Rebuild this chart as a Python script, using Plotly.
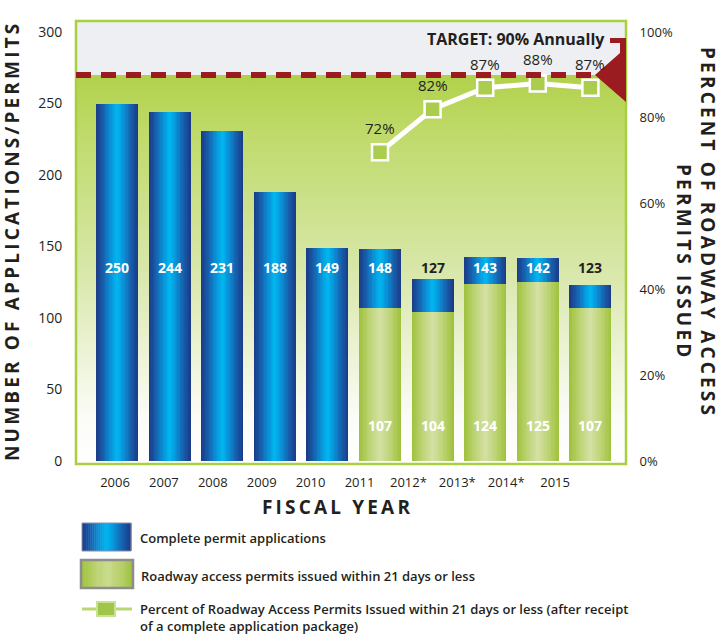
import plotly.graph_objects as go

# ---------------- data ----------------
years = [2006, 2007, 2008, 2009, 2010, 2011, 2012, 2013, 2014, 2015]
year_labels = ["2006", "2007", "2008", "2009", "2010", "2011", "2012*", "2013*", "2014*", "2015"]
complete_apps = [250, 244, 231, 188, 149, 148, 127, 143, 142, 123]
issued_years = [2011, 2012, 2013, 2014, 2015]
issued_21 = [107, 104, 124, 125, 107]
pct_years = [2011, 2012, 2013, 2014, 2015]
pct_issued = [72, 82, 87, 88, 87]
target_pct = 90
left_ticks = [0, 50, 100, 150, 200, 250, 300]
right_ticks = [0, 20, 40, 60, 80, 100]
right_tick_labels = [f"{v}%" for v in right_ticks]

legend_labels = [
    "Complete permit applications",
    "Roadway access permits issued within 21 days or less",
    "Percent of Roadway Access Permits Issued within 21 days or less (after receipt<br>of a complete application package)",
]
target_text = "TARGET: 90% Annually"

# ---------------- style ----------------
FONT = "Open Sans"
DARK = "#231f20"
PLOT_L, PLOT_R, PLOT_T, PLOT_B = 76, 626, 21, 464   # plot frame in window pixels
W, H = 721, 637
PW, PH = PLOT_R - PLOT_L, PLOT_B - PLOT_T
MARGIN = dict(l=PLOT_L, r=W - PLOT_R, t=PLOT_T, b=H - PLOT_B)

PCT_PER_UNIT = 3.0          # 100 % on right axis <-> 300 on left axis
Y_RANGE = [-2.1, 307.7]
Y2_RANGE = [v / PCT_PER_UNIT for v in Y_RANGE]
X_RANGE = [2005.2205, 2005.2205 + PW / 52.6]
XLAB_RANGE = [2005.2025, 2005.2025 + PW / 48.9]
BAR_W = 0.8
BLUE_LABEL_Y = 135
GREEN_LABEL_Y = 25


def px_x(px):
    return (px - PLOT_L) / PW


def px_y(py):
    return (PLOT_B - py) / PH


def px_pct(py):
    frac = (PLOT_B - py) / PH
    return Y2_RANGE[0] + frac * (Y2_RANGE[1] - Y2_RANGE[0])


def hex2rgb(h):
    h = h.lstrip("#")
    return tuple(int(h[i:i + 2], 16) for i in (0, 2, 4))


def ramp(stops, d):
    for (p0, c0), (p1, c1) in zip(stops[:-1], stops[1:]):
        if p0 <= d <= p1:
            t = (d - p0) / (p1 - p0) if p1 > p0 else 0
            a, b = hex2rgb(c0), hex2rgb(c1)
            return "rgb(%d,%d,%d)" % tuple(round(a[i] + (b[i] - a[i]) * t) for i in range(3))
    return stops[-1][1]


BLUE = [(0, "#00b8f0"), (0.3, "#0a92d8"), (0.65, "#1760ad"), (1, "#1b3886")]
GREEN = [(0, "#d4e1a4"), (0.5, "#bdd375"), (1, "#9dc13b")]


def spaced(s):
    return "\u2006".join(s)


fig = go.Figure()

# background gradient below target (main subplot, drawn first)
fig.add_trace(go.Scatter(
    x=[XLAB_RANGE[0], XLAB_RANGE[1], XLAB_RANGE[1], XLAB_RANGE[0]],
    y=[Y_RANGE[0], Y_RANGE[0], target_pct * PCT_PER_UNIT, target_pct * PCT_PER_UNIT],
    fill="toself", mode="none", hoverinfo="skip", showlegend=False,
    fillgradient=dict(type="vertical",
                      colorscale=[[0, "#ffffff"], [0.12, "#fbfcf7"], [0.5, "#d8e7a9"],
                                  [0.85, "#bfda6a"], [1, "#b1d14b"]]),
))

# gradient bars built from overlaid layers
N = 16
for k in range(N):
    w = BAR_W * (N - k) / N
    d = (N - k - 0.5) / N
    fig.add_trace(go.Bar(x=years, y=complete_apps, width=w, marker_color=ramp(BLUE, d),
                         marker_line_width=0, hoverinfo="skip", showlegend=False,
                         xaxis="x2", yaxis="y2"))
for k in range(N):
    w = BAR_W * (N - k) / N
    d = (N - k - 0.5) / N
    fig.add_trace(go.Bar(x=issued_years, y=issued_21, width=w, marker_color=ramp(GREEN, d),
                         marker_line_width=0, hoverinfo="skip", showlegend=False,
                         xaxis="x2", yaxis="y2"))

# percent line
fig.add_trace(go.Scatter(
    x=pct_years, y=pct_issued, xaxis="x2", yaxis="y3", mode="lines+markers",
    line=dict(color="white", width=5),
    marker=dict(symbol="square", size=16, color="#aacd4e", line=dict(color="white", width=2.5)),
    hoverinfo="skip", showlegend=False,
))

ann = []
for yr, v in zip(years, complete_apps):
    col = "white" if v > BLUE_LABEL_Y + 6 else DARK
    ann.append(dict(x=yr, y=BLUE_LABEL_Y, xref="x2", yref="y2", text=str(v), showarrow=False,
                    font=dict(family=FONT, size=14, color=col, weight=700)))
for yr, v in zip(issued_years, issued_21):
    ann.append(dict(x=yr, y=GREEN_LABEL_Y, xref="x2", yref="y2", text=str(v), showarrow=False,
                    font=dict(family=FONT, size=14, color="white", weight=700)))
for yr, p in zip(pct_years, pct_issued):
    ann.append(dict(x=yr, y=p, xref="x2", yref="y3", text=f"{p}%", showarrow=False, yshift=24,
                    font=dict(family=FONT, size=15, color=DARK)))


def paper_text(xp, yp, text, font, xanchor="center", textangle=0, align="center"):
    return dict(x=px_x(xp), y=px_y(yp), xref="paper", yref="paper", xanchor=xanchor,
                yanchor="middle", text=text, showarrow=False, font=font,
                textangle=textangle, align=align)


title_font = dict(family=FONT, size=19, color=DARK, weight=700)
ann.append(paper_text(607, 39, target_text, dict(family=FONT, size=16, color=DARK, weight=700),
                      xanchor="right"))
ann.append(paper_text(12, 243, spaced("NUMBER OF APPLICATIONS/PERMITS"), title_font, textangle=-90))
ann.append(paper_text(708, 231, spaced("PERCENT OF ROADWAY ACCESS"), title_font, textangle=90))
ann.append(paper_text(684, 260, spaced("PERMITS ISSUED"), title_font, textangle=90))
ann.append(paper_text(336, 507, spaced("FISCAL YEAR"), title_font))

leg_font = dict(family=FONT, size=13, color=DARK, weight=600)
ann.append(paper_text(138, 538, legend_labels[0], leg_font, xanchor="left", align="left"))
ann.append(paper_text(139, 576, legend_labels[1], leg_font, xanchor="left", align="left"))
ann.append(paper_text(138, 617, legend_labels[2], leg_font, xanchor="left", align="left"))

shapes = []


def swatch(x0, y0, x1, y1, stops, border, bw):
    n = 24
    for i in range(n):
        a = x0 + (x1 - x0) * i / n
        b = x0 + (x1 - x0) * (i + 1) / n
        c = (a + b) / 2
        d = abs(c - (x0 + x1) / 2) / ((x1 - x0) / 2)
        shapes.append(dict(type="rect", xref="paper", yref="paper",
                           x0=px_x(a), x1=px_x(b + 0.5), y0=px_y(y1), y1=px_y(y0),
                           fillcolor=ramp(stops, d), line=dict(width=0)))
    shapes.append(dict(type="rect", xref="paper", yref="paper",
                       x0=px_x(x0), x1=px_x(x1), y0=px_y(y1), y1=px_y(y0),
                       fillcolor="rgba(0,0,0,0)", line=dict(color=border, width=bw)))


swatch(82, 523, 131, 551, BLUE, "#8a8fa8", 1)
swatch(81, 560, 133, 588, [(0, "#cadb8e"), (0.5, "#b8d06a"), (1, "#9dc13b")], "#8d8d8d", 2.5)
shapes.append(dict(type="line", xref="paper", yref="paper", x0=px_x(82), x1=px_x(132),
                   y0=px_y(609), y1=px_y(609), line=dict(color="#b9d873", width=3)))
shapes.append(dict(type="rect", xref="paper", yref="paper", x0=px_x(97), x1=px_x(115),
                   y0=px_y(616), y1=px_y(602), fillcolor="#9fc64b",
                   line=dict(color="#c9e192", width=2)))

# plot frame
shapes.append(dict(type="rect", xref="paper", yref="paper", x0=0, x1=1, y0=0, y1=1,
                   line=dict(color="#a8cf3f", width=2.5), fillcolor="rgba(0,0,0,0)"))
# target dashed line
shapes.append(dict(type="line", xref="paper", yref="y3", x0=0, x1=px_x(593),
                   y0=target_pct, y1=target_pct,
                   line=dict(color="#9a1b20", width=6, dash="15px,10px")))
# red target marker at right edge
pts = [(620, 53), (620, 43), (610, 43), (610, 38), (626, 38), (626, 102)]
path = "M %f,%f" % (px_x(595), target_pct)
for xp, yp in pts:
    path += " L %f,%f" % (px_x(xp), px_pct(yp))
path += " Z"
shapes.append(dict(type="path", xref="paper", yref="y3", path=path,
                   fillcolor="#9a1b20", line=dict(width=0)))

hidden = dict(visible=False, showgrid=False, zeroline=False)
fig.update_layout(
    width=W, height=H,
    margin=MARGIN,
    paper_bgcolor="white",
    plot_bgcolor="#eeeff2",
    barmode="overlay",
    bargap=0,
    showlegend=False,
    font=dict(family=FONT, color=DARK),
    xaxis=dict(range=XLAB_RANGE, tickvals=years, ticktext=year_labels, showgrid=False,
               zeroline=False, showline=False, ticks="outside", ticklen=6,
               tickcolor="rgba(0,0,0,0)", tickfont=dict(family=FONT, size=13, color=DARK)),
    xaxis2=dict(range=X_RANGE, overlaying="x", anchor="y2", **hidden),
    yaxis=dict(range=Y_RANGE, tickvals=left_ticks, showgrid=False, zeroline=False,
               showline=False, ticks="outside", ticklen=10, tickcolor="rgba(0,0,0,0)",
               tickfont=dict(family=FONT, size=14, color=DARK)),
    yaxis2=dict(range=Y_RANGE, overlaying="y", anchor="x2", **hidden),
    yaxis3=dict(range=Y2_RANGE, overlaying="y", side="right", anchor="x2",
                tickvals=right_ticks, ticktext=right_tick_labels,
                showgrid=False, zeroline=False, showline=False,
                ticks="outside", ticklen=10, tickcolor="rgba(0,0,0,0)",
                tickfont=dict(family=FONT, size=13, color=DARK)),
    shapes=shapes,
    annotations=ann,
)

# remove the browser's default page margin so the figure fills the window exactly
fig.write_html("out.html", config={"displayModeBar": False},
               post_script="document.body.style.margin='0';")
